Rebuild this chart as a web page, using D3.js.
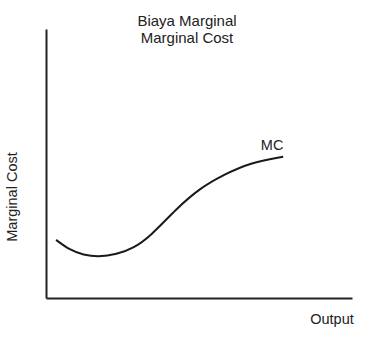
<!DOCTYPE html>
<html>
<head>
<meta charset="utf-8">
<script src="https://cdn.jsdelivr.net/npm/d3@7"></script>
<style>
  body { margin: 0; background: #fff; }
  text { font-family: "Liberation Sans", Arial, sans-serif; fill: #222; }
</style>
</head>
<body>
<div id="field"></div>
<script>
'use strict';

// kurva MC (output, biaya), skala 0-100
const output = [3.3, 7.8, 12.2, 17.1, 23.1, 28.5, 34.0, 42.7, 50.3, 57.9, 66.7, 77.5];
const cost   = [21.6, 17.8, 16.0, 15.2, 16.2, 18.5, 22.8, 33.3, 40.8, 45.7, 50.3, 52.5];
const titleLines = ['Biaya Marginal', 'Marginal Cost'];
const xLabel = 'Output', yLabel = 'Marginal Cost', curveLabel = 'MC';

const w = 383, h = 342;
const svg = d3.select('#field').append('svg').attr('width', w).attr('height', h);

const x = d3.scaleLinear().domain([0, 100]).range([46, 352]),
      y = d3.scaleLinear().domain([0, 100]).range([298, 29]);

// sumbu tanpa tick
svg.append('g')
  .attr('transform', 'translate(0,' + y(0) + ')')
  .call(d3.axisBottom(x).ticks(0).tickSizeOuter(0))
  .select('.domain').attr('stroke', '#222').attr('stroke-width', 2);
svg.append('g')
  .attr('transform', 'translate(' + x(0) + ',0)')
  .call(d3.axisLeft(y).ticks(0).tickSizeOuter(0))
  .select('.domain').attr('stroke', '#222').attr('stroke-width', 2);

const pts = output.map((d, i) => [d, cost[i]]);
// basis spline: menghaluskan titik hasil bacaan
const line = d3.line()
  .x(d => x(d[0]))
  .y(d => y(d[1]))
  .curve(d3.curveBasis);

svg.append('path')
  .datum(pts)
  .attr('d', line)
  .attr('fill', 'none')
  .attr('stroke', '#1a1a1a')
  .attr('stroke-width', 2);

// judul
svg.selectAll('.title').data(titleLines).enter().append('text')
  .attr('class', 'title')
  .attr('x', 187)
  .attr('y', (d, i) => 26 + i * 16.5)
  .attr('text-anchor', 'middle')
  .attr('font-size', '15px')
  .text(d => d);

svg.append('text')
  .attr('x', 332)
  .attr('y', 324)
  .attr('text-anchor', 'middle')
  .attr('font-size', '14.5px')
  .text(xLabel);

svg.append('text')
  .attr('transform', 'translate(17,197) rotate(-90)')
  .attr('text-anchor', 'middle')
  .attr('font-size', '14.5px')
  .text(yLabel);

const last = pts[pts.length - 1];
svg.append('text')
  .attr('x', x(last[0]) - 11)
  .attr('y', y(last[1]) - 7)
  .attr('text-anchor', 'middle')
  .attr('font-size', '14.5px')
  .text(curveLabel);
</script>
</body>
</html>
